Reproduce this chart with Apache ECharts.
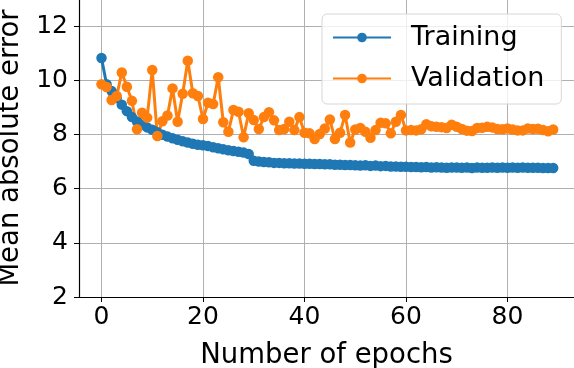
<!DOCTYPE html>
<html>
<head>
<meta charset="utf-8">
<script src="https://cdn.jsdelivr.net/npm/echarts@6/dist/echarts.min.js"></script>
<style>
  html, body { margin: 0; padding: 0; background: #fff; }
  #chart { width: 574px; height: 368px; }
</style>
</head>
<body>
<div id="chart"></div>
<script>
// epochs 0..89
const epochs = Array.from({ length: 90 }, (_, i) => i)
const training = [
  10.82, 9.85, 9.60, 9.35, 9.10, 8.86, 8.64, 8.48, 8.36, 8.26,
  8.17, 8.08, 7.99, 7.92, 7.86, 7.80, 7.75, 7.70, 7.66, 7.62,
  7.60, 7.57, 7.53, 7.49, 7.45, 7.42, 7.39, 7.36, 7.33, 7.28,
  7.03, 7.00, 6.98, 6.97, 6.95, 6.95, 6.94, 6.94, 6.93, 6.93,
  6.92, 6.92, 6.91, 6.91, 6.90, 6.90, 6.88, 6.88, 6.87, 6.87,
  6.86, 6.85, 6.86, 6.84, 6.85, 6.83, 6.84, 6.82, 6.82, 6.81,
  6.81, 6.80, 6.80, 6.79, 6.80, 6.78, 6.79, 6.78, 6.77, 6.78,
  6.78, 6.77, 6.78, 6.76, 6.78, 6.77, 6.77, 6.78, 6.77, 6.78,
  6.77, 6.78, 6.77, 6.78, 6.77, 6.77, 6.77, 6.76, 6.76, 6.76
]
const validation = [
  9.85, 9.75, 9.27, 9.42, 10.29, 9.76, 9.24, 8.19, 8.80, 8.62,
  10.38, 7.94, 8.49, 8.70, 9.70, 8.47, 9.50, 10.72, 9.52, 9.42,
  8.57, 9.17, 9.12, 10.11, 8.45, 8.10, 8.90, 8.84, 7.90, 8.78,
  8.53, 8.20, 8.64, 8.82, 8.52, 8.16, 8.20, 8.47, 8.16, 8.64,
  8.06, 8.04, 7.83, 8.02, 8.22, 8.55, 7.83, 8.06, 8.72, 7.70,
  8.18, 8.24, 8.10, 7.88, 8.16, 8.43, 8.41, 8.04, 8.47, 8.72,
  8.15, 8.16, 8.15, 8.19, 8.38, 8.30, 8.28, 8.27, 8.24, 8.36,
  8.28, 8.20, 8.14, 8.13, 8.24, 8.25, 8.28, 8.26, 8.20, 8.19,
  8.22, 8.18, 8.15, 8.15, 8.22, 8.20, 8.21, 8.16, 8.12, 8.18
]
const xTicks = [0, 20, 40, 60, 80]

const font = 'DejaVu Sans'
const blue = '#1f77b4'
const orange = '#ff7f0e'

const pairs = (ys) => epochs.map((x, i) => [x, ys[i]])

const lineSeries = (name, ys, color) => ({
  name: name,
  type: 'line',
  data: pairs(ys),
  symbol: 'circle',
  symbolSize: 10.5,
  showAllSymbol: true,
  itemStyle: { color: color },
  lineStyle: { color: color, width: 3 },
  emphasis: { disabled: true },
  animation: false
})

const myChart = echarts.init(document.getElementById('chart'))
myChart.setOption({
  animation: false,
  // keep the plot area where it is, labels may go to the edge
  grid: { left: 79, right: 0, top: -1, bottom: 71, outerBoundsMode: 'none', containLabel: false },
  legend: {
    orient: 'vertical',
    left: 322,
    top: 14,
    padding: [10, 17, 12, 10],
    itemGap: 14,
    itemWidth: 58,
    itemHeight: 12,
    backgroundColor: 'rgba(255,255,255,0.8)',
    borderColor: '#d6d6d6',
    borderWidth: 1,
    borderRadius: 5,
    textStyle: { fontFamily: font, fontSize: 27, color: '#000', padding: [0, 0, 0, 15] },
    data: ['Training', 'Validation']
  },
  xAxis: {
    type: 'value',
    min: -4.43,
    max: 93.1,
    name: 'Number of epochs',
    nameLocation: 'middle',
    nameGap: 45,
    nameTextStyle: { fontFamily: font, fontSize: 27.5, color: '#000' },
    axisLine: { show: true, onZero: false, lineStyle: { color: '#000', width: 1.2 } },
    axisTick: { show: true, length: 5, customValues: xTicks, lineStyle: { color: '#000' } },
    axisLabel: { customValues: xTicks, fontFamily: font, fontSize: 25, color: '#000', margin: 8 },
    splitLine: { show: true, lineStyle: { color: '#b0b0b0', width: 1 } }
  },
  yAxis: {
    type: 'value',
    min: 2,
    max: 13,
    interval: 2,
    name: 'Mean absolute error',
    nameLocation: 'middle',
    nameGap: 51,
    nameTextStyle: { fontFamily: font, fontSize: 27.5, color: '#000' },
    axisLine: { show: true, onZero: false, lineStyle: { color: '#000', width: 1.2 } },
    axisTick: { show: true, length: 5, lineStyle: { color: '#000' } },
    axisLabel: { fontFamily: font, fontSize: 25, color: '#000', margin: 11, showMaxLabel: false },
    splitLine: { show: true, lineStyle: { color: '#b0b0b0', width: 1 } }
  },
  series: [
    lineSeries('Training', training, blue),
    lineSeries('Validation', validation, orange)
  ]
})
</script>
</body>
</html>
